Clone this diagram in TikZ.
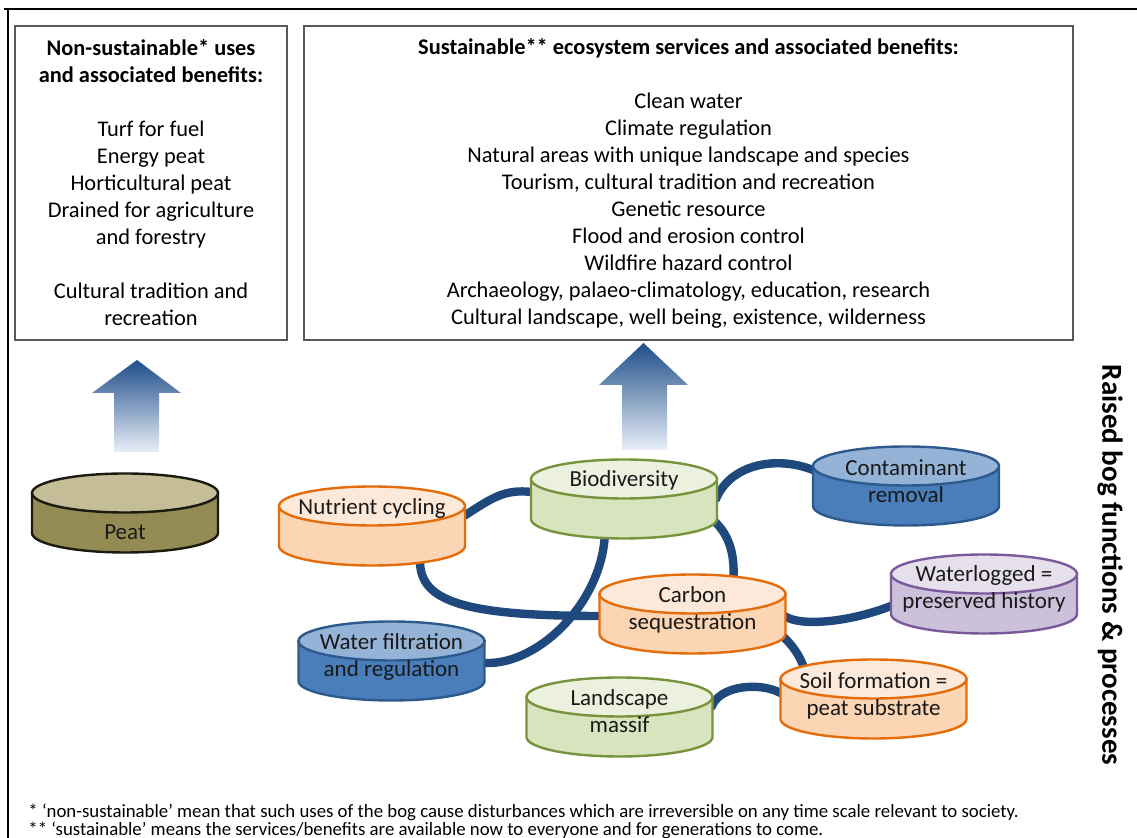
\documentclass[tikz,border=0pt]{standalone}
\usepackage{fontspec}
\setmainfont{Carlito}
\usetikzlibrary{calc}
\definecolor{connc}{HTML}{1F497D}
\definecolor{orS}{HTML}{E46C0A}\definecolor{orB}{HTML}{FCD5B4}\definecolor{orT}{HTML}{FDE9D9}
\definecolor{grS}{HTML}{77933C}\definecolor{grB}{HTML}{D7E4BD}\definecolor{grT}{HTML}{EBF1DE}
\definecolor{blS}{HTML}{2C5A8C}\definecolor{blB}{HTML}{4A7EBB}\definecolor{blT}{HTML}{95B3D7}
\definecolor{puS}{HTML}{7A5A9C}\definecolor{puB}{HTML}{CCC1DA}\definecolor{puT}{HTML}{E5E0EC}
\definecolor{peS}{HTML}{1A1A10}\definecolor{peB}{HTML}{948A54}\definecolor{peT}{HTML}{C4BD97}
\definecolor{arT}{HTML}{1F4E8A}\definecolor{arB}{HTML}{E8EEF7}
\definecolor{boxc}{HTML}{595959}
\newcommand\drawcyl[4]{%
  \draw[line width=1.2pt, draw=#4, fill=#2] ($(#1)+(-93,0)$) -- ($(#1)+(-93,40)$)
    arc[start angle=180, end angle=0, x radius=93, y radius=19.5] -- ($(#1)+(93,0)$) -- cycle;
  \draw[line width=1.2pt, draw=#4, fill=#3] (#1) ellipse [x radius=93, y radius=19.5];
}
\begin{document}
\begin{tikzpicture}[x=0.5pt,y=-0.5pt,
  txt/.style={font=\fontsize{11.5}{13.5}\selectfont, align=center, inner sep=0pt},
  boxst/.style={draw=boxc, line width=1.3pt, align=center, inner sep=0pt, font=\fontsize{11.2}{13.5}\selectfont},
  conn/.style={draw=connc, line width=4.2pt, line cap=round},
  lab/.style={txt, text=black!90}]
\useasboundingbox (0,0) rectangle (1137,838);
% frame
\draw[line width=1pt] (4,9) -- (1137,9);
\draw[line width=1pt] (8,9) -- (8,838);
% boxes
\node (lbox) [boxst, minimum width=136pt, minimum height=157pt] at (151,183) {%
  \textbf{Non-sustainable* uses}\\ \textbf{and associated benefits:}\\ \mbox{}\\
  Turf for fuel\\ Energy peat\\ Horticultural peat\\ Drained for agriculture\\ and forestry\\ \mbox{}\\
  Cultural tradition and\\ recreation};
\node (rbox) [boxst, minimum width=384.5pt, minimum height=157pt] at (688.5,183) {%
  \textbf{Sustainable** ecosystem services and associated benefits:}\\ \mbox{}\\
  Clean water\\ Climate regulation\\ Natural areas with unique landscape and species\\
  Tourism, cultural tradition and recreation\\ Genetic resource\\ Flood and erosion control\\
  Wildfire hazard control\\ Archaeology, palaeo-climatology, education, research\\
  Cultural landscape, well being, existence, wilderness};
% arrows
\shade[top color=arT, bottom color=arB] (137,360) -- (181,393) -- (159,393) -- (159,452) -- (114,452) -- (114,393) -- (92,393) -- cycle;
\shade[top color=arT, bottom color=arB] (643.5,343) -- (688,385) -- (667,385) -- (667,450) -- (622,450) -- (622,385) -- (599,385) -- cycle;
% cylinder positions (centre of top ellipse)
\coordinate (peat) at (125,493);
\coordinate (nut) at (372,506);
\coordinate (bio) at (624,479);
\coordinate (carb) at (692.5,594);
\coordinate (water) at (391.5,641);
\coordinate (land) at (619.5,697);
\coordinate (cont) at (906,466);
\coordinate (wlog) at (984,574);
\coordinate (soil) at (873.5,679);
% connectors
\draw[conn] ($(nut)+(92,10)$) .. controls ($(nut)+(120,-8)$) and ($(bio)+(-120,10)$) .. ($(bio)+(-92,13)$);
\draw[conn] ($(nut)+(48,55)$) .. controls ($(nut)+(48,95)$) and ($(carb)+(-230,22)$) .. ($(carb)+(-92,22)$);
\draw[conn] ($(bio)+(-19,50)$) .. controls ($(bio)+(-19,121)$) and ($(water)+(148,24)$) .. ($(water)+(94,22)$);
\draw[conn] ($(bio)+(92,20)$) .. controls ($(bio)+(106,-14)$) and ($(cont)+(-131,-11)$) .. ($(cont)+(-93,4)$);
\draw[conn] ($(bio)+(89,41)$) .. controls ($(bio)+(106,56)$) and ($(carb)+(42,-39)$) .. ($(carb)+(41,-16)$);
\draw[conn] ($(carb)+(92,22)$) .. controls ($(carb)+(108,33)$) and ($(wlog)+(-134,48)$) .. ($(wlog)+(-93,32)$);
\draw[conn] ($(carb)+(88,40)$) .. controls ($(carb)+(100,51)$) and ($(soil)+(-74,-24)$) .. ($(soil)+(-69,-10)$);
\draw[conn] ($(land)+(92,10)$) .. controls ($(land)+(100,-12)$) and ($(soil)+(-113,3)$) .. ($(soil)+(-93,14)$);
% cylinders
\drawcyl{peat}{peB}{peT}{peS}
\drawcyl{nut}{orB}{orT}{orS}
\drawcyl{bio}{grB}{grT}{grS}
\drawcyl{carb}{orB}{orT}{orS}
\drawcyl{water}{blB}{blT}{blS}
\drawcyl{land}{grB}{grT}{grS}
\drawcyl{cont}{blB}{blT}{blS}
\drawcyl{wlog}{puB}{puT}{puS}
\drawcyl{soil}{orB}{orT}{orS}
% labels
\node (peatL) [lab] at (125,532) {Peat};
\node (nutL) [lab] at (372,508) {Nutrient cycling};
\node (bioL) [lab] at (624,480) {Biodiversity};
\node (carbL) [lab] at (692.5,610) {Carbon\\ sequestration};
\node (waterL) [lab] at (391.5,656.5) {Water filtration\\ and regulation};
\node (landL) [lab] at (619.5,711.5) {Landscape\\ massif};
\node (contL) [lab] at (906,481.5) {Contaminant\\ removal};
\node (wlogL) [lab] at (984,589) {Waterlogged =\\ preserved history};
\node (soilL) [lab] at (873.5,695.5) {Soil formation =\\ peat substrate};
% side title
\node (side) [rotate=-90, inner sep=0pt, font=\bfseries\fontsize{14.5}{17}\selectfont] at (1110,565) {Raised bog functions \& processes};
% footnotes
\node (fn1) [anchor=west, inner sep=0pt, font=\fontsize{9.4}{11}\selectfont] at (28,812) {* ‘non-sustainable’ mean that such uses of the bog cause disturbances which are irreversible on any time scale relevant to society.};
\node (fn2) [anchor=west, inner sep=0pt, font=\fontsize{9.4}{11}\selectfont] at (28,830) {** ‘sustainable’ means the services/benefits are available now to everyone and for generations to come.};
\end{tikzpicture}
\end{document}
